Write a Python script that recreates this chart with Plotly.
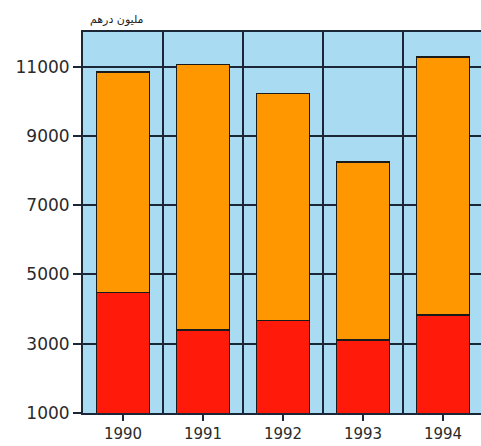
import plotly.graph_objects as go

years = [1990, 1991, 1992, 1993, 1994]
red_values = [4480, 3400, 3670, 3110, 3830]
orange_values = [6370, 7660, 6560, 5130, 7450]
y_tickvals = [1000, 3000, 5000, 7000, 9000, 11000]
y_ticktext = ["1000", "3000", "5000", "7000", "9000", "11000"]
unit_label = "مليون درهم"

line_col = "#1b2636"
fig = go.Figure()
fig.add_trace(go.Bar(x=years, y=red_values, marker=dict(color="#ff1a0a", line=dict(color="#1a1a1a", width=1.5)), width=0.66))
fig.add_trace(go.Bar(x=years, y=orange_values, marker=dict(color="#ff9800", line=dict(color="#1a1a1a", width=1.5)), width=0.66))

fig.update_layout(
    template="none",
    width=481, height=446,
    margin=dict(l=83, r=0, t=32, b=33, autoexpand=False),
    barmode="stack",
    showlegend=False,
    paper_bgcolor="white",
    plot_bgcolor="#a9dbf3",
    font=dict(family="DejaVu Sans", color="#2a2a2a"),
    annotations=[dict(text=unit_label, xref="paper", yref="paper", x=0.085, y=1.0,
                      yshift=13, showarrow=False, font=dict(size=11, color="#222"),
                      xanchor="center", yanchor="middle")],
)
fig.update_xaxes(
    automargin=False,
    range=[1989.5, 1994.475],
    tickvals=years, ticktext=[str(y) for y in years],
    ticks="outside", ticklen=6, tickwidth=1.5, tickcolor=line_col,
    tickfont=dict(size=15), ticklabelstandoff=0,
    showgrid=False,
    showline=True, linecolor=line_col, linewidth=2, mirror=True,
    minor=dict(tick0=1989.5, dtick=1, showgrid=True, gridcolor=line_col, gridwidth=1.6, ticklen=0),
    zeroline=False,
)
fig.update_yaxes(
    automargin=False,
    range=[1000, 12000],
    tickvals=y_tickvals, ticktext=y_ticktext,
    ticks="outside", ticklen=8, tickwidth=1.5, tickcolor=line_col,
    tickfont=dict(size=17),
    showgrid=True, gridcolor=line_col, gridwidth=1.6,
    showline=True, linecolor=line_col, linewidth=2,
    zeroline=False,
)
fig.write_html("out.html", config={"displayModeBar": False},
               post_script="document.body.style.margin='0';document.body.style.overflow='hidden';")
